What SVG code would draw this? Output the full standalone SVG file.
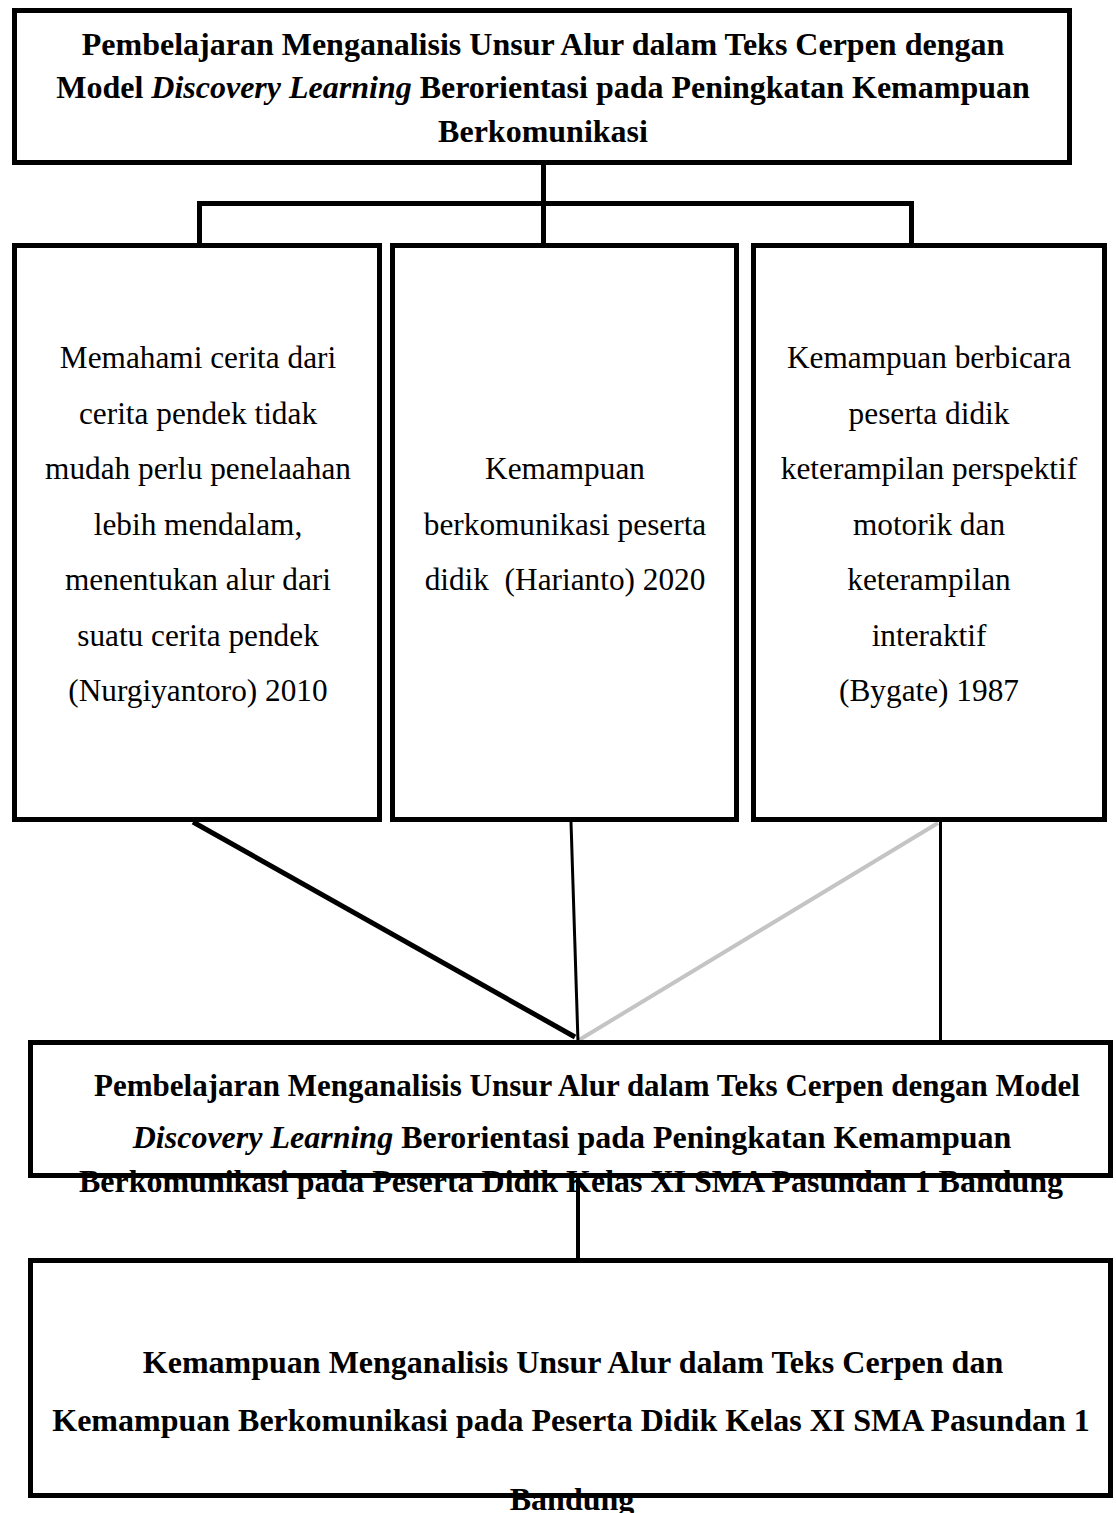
<svg xmlns="http://www.w3.org/2000/svg" width="1116" height="1513" viewBox="0 0 1116 1513">
<style>
.box{fill:none;stroke:#000;stroke-width:5}
.t{font-family:"Liberation Serif","Times New Roman",serif;font-size:31.3px;fill:#000;text-anchor:middle}
.b{font-weight:bold;font-size:32px}
.i{font-style:italic}
.ln{stroke:#000;fill:none}
</style>
<rect width="1116" height="1513" fill="#fff"/>
<g id="connectors">
  <line class="ln" x1="543.5" y1="165" x2="543.5" y2="243" stroke-width="5"/>
  <line class="ln" x1="197" y1="203.5" x2="914" y2="203.5" stroke-width="5"/>
  <line class="ln" x1="199.5" y1="203" x2="199.5" y2="243" stroke-width="5"/>
  <line class="ln" x1="911.5" y1="203" x2="911.5" y2="243" stroke-width="5"/>
  <line x1="938" y1="823" x2="579" y2="1040" stroke="#c4c4c4" stroke-width="4"/>
  <line class="ln" x1="193" y1="822" x2="575" y2="1037" stroke-width="5"/>
  <line class="ln" x1="571" y1="822" x2="578" y2="1042" stroke-width="3"/>
  <line class="ln" x1="940.5" y1="822" x2="940.5" y2="1042" stroke-width="3"/>
  <line class="ln" x1="578" y1="1176" x2="578" y2="1260" stroke-width="4"/>
</g>
<g id="top">
  <text class="t b" x="543" y="55">Pembelajaran Menganalisis Unsur Alur dalam Teks Cerpen dengan</text>
  <text class="t b" x="543" y="98">Model <tspan class="i">Discovery Learning</tspan> Berorientasi pada Peningkatan Kemampuan</text>
  <text class="t b" x="543" y="142">Berkomunikasi</text>
  <rect class="box" x="14.5" y="10.5" width="1055" height="152"/>
</g>
<g id="box1">
  <rect class="box" x="14.5" y="245.5" width="365" height="574"/>
  <text class="t" x="198" y="368">Memahami cerita dari</text>
  <text class="t" x="198" y="424">cerita pendek tidak</text>
  <text class="t" x="198" y="479">mudah perlu penelaahan</text>
  <text class="t" x="198" y="535">lebih mendalam,</text>
  <text class="t" x="198" y="590">menentukan alur dari</text>
  <text class="t" x="198" y="646">suatu cerita pendek</text>
  <text class="t" x="198" y="701">(Nurgiyantoro) 2010</text>
</g>
<g id="box2">
  <rect class="box" x="392.5" y="245.5" width="344" height="574"/>
  <text class="t" x="565" y="479">Kemampuan</text>
  <text class="t" x="565" y="535">berkomunikasi peserta</text>
  <text class="t" x="565" y="590" xml:space="preserve">didik  (Harianto) 2020</text>
</g>
<g id="box3">
  <rect class="box" x="753.5" y="245.5" width="351" height="574"/>
  <text class="t" x="929" y="368">Kemampuan berbicara</text>
  <text class="t" x="929" y="424">peserta didik</text>
  <text class="t" x="929" y="479">keterampilan perspektif</text>
  <text class="t" x="929" y="535">motorik dan</text>
  <text class="t" x="929" y="590">keterampilan</text>
  <text class="t" x="929" y="646">interaktif</text>
  <text class="t" x="929" y="701">(Bygate) 1987</text>
</g>
<g id="middle">
  <text class="t b" x="587" y="1096" style="font-size:31px">Pembelajaran Menganalisis Unsur Alur dalam Teks Cerpen dengan Model</text>
  <text class="t b" x="572" y="1148"><tspan class="i">Discovery Learning</tspan> Berorientasi pada Peningkatan Kemampuan</text>
  <text class="t b" x="571" y="1192">Berkomunikasi pada Peserta Didik Kelas XI SMA Pasundan 1 Bandung</text>
  <rect class="box" x="30.5" y="1042.5" width="1080" height="133"/>
</g>
<g id="bottom">
  <text class="t b" x="573" y="1373">Kemampuan Menganalisis Unsur Alur dalam Teks Cerpen dan</text>
  <text class="t b" x="571" y="1431">Kemampuan Berkomunikasi pada Peserta Didik Kelas XI SMA Pasundan 1</text>
  <text class="t b" x="572" y="1510">Bandung</text>
  <rect class="box" x="30.5" y="1260.5" width="1080" height="235"/>
</g>
</svg>
